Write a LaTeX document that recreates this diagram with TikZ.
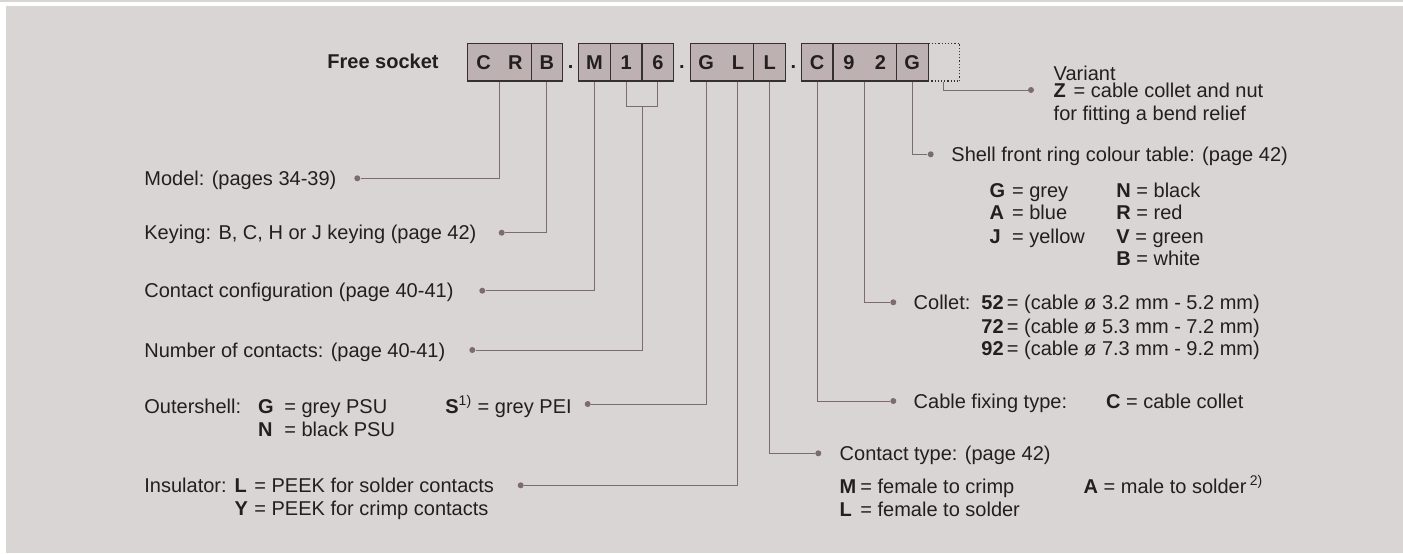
\documentclass[tikz,border=0pt]{standalone}
\usepackage{fontspec}
\setmainfont{Liberation Sans}
\definecolor{panel}{RGB}{217,213,212}
\definecolor{cellfill}{RGB}{189,178,177}
\definecolor{cellline}{RGB}{55,48,48}
\definecolor{leadline}{RGB}{124,108,109}
\definecolor{ink}{RGB}{35,31,32}
\newcommand{\cellw}{15.85pt}
\newcommand{\colbox}[2]{\makebox[#1][l]{#2}}
\newcommand{\cellpair}[2]{\makebox[\cellw]{#1}\makebox[\cellw]{#2}}

\begin{document}
\begin{tikzpicture}
        [x=0.5pt, y=-0.5pt,
        cell/.style={draw=cellline, fill=cellfill, line width=0.6pt, minimum width=\cellw, minimum height=18.85pt, inner sep=0pt, font=\bfseries, text=ink},
        wide/.style={cell, minimum width=31.7pt},
        spare/.style={draw=cellline, densely dotted, line width=0.6pt, minimum width=\cellw, minimum height=18.85pt, inner sep=0pt},
        sep/.style={anchor=base, inner sep=0pt, font=\bfseries, text=ink},
        txt/.style={anchor=base west, inner sep=0pt, text=ink},
        dot/.style={circle, fill=leadline, inner sep=0pt, minimum size=3pt},
        lead/.style={draw=leadline, line width=0.5pt}]
        \fill[white] (0,0) rectangle (1403,553);
        \fill[panel] (0,0) rectangle (1403,2);
        \fill[panel] (6,6) rectangle (1403,553);
        \useasboundingbox (0,0) rectangle (1403,553);

        % ordering code
        \node[txt, anchor=base east, font=\bfseries] (title) at (439,68.5) {Free socket};
        \node[wide] (CR) at (499.4,62.15) {\cellpair{C}{R}};
        \node[cell] (B) at (546.95,62.15) {B};
        \node[sep] (s1) at (570.7,68.5) {.};
        \node[cell] (M) at (594.45,62.15) {M};
        \node[cell] (n1) at (626.15,62.15) {1};
        \node[cell] (n6) at (657.85,62.15) {6};
        \node[sep] (s2) at (682,68.5) {.};
        \node[wide] (GL) at (722.1,62.15) {\cellpair{G}{L}};
        \node[cell] (L) at (769.65,62.15) {L};
        \node[sep] (s3) at (793.4,68.5) {.};
        \node[cell] (C) at (817.15,62.15) {C};
        \node[wide] (n92) at (864.7,62.15) {\cellpair{9}{2}};
        \node[cell] (G) at (912.25,62.15) {G};
        \node[spare] (Z) at (943.95,62.15) {};

        % dots at the label ends
        \node[dot] (dModel) at (357.3,178.3) {};
        \node[dot] (dKey) at (501.7,232.7) {};
        \node[dot] (dConf) at (482.3,290.7) {};
        \node[dot] (dNum) at (472.3,350) {};
        \node[dot] (dOuter) at (587.7,404) {};
        \node[dot] (dIns) at (520.7,485.3) {};
        \node[dot] (dCtype) at (818.3,453.3) {};
        \node[dot] (dCable) at (893.3,401) {};
        \node[dot] (dCollet) at (893.3,302.3) {};
        \node[dot] (dShell) at (930.7,154.3) {};
        \node[dot] (dVar) at (1031,90) {};
        \coordinate (brk) at (642,106.7);

        \draw[lead] (CR.south) |- (dModel);
        \draw[lead] (B.south) |- (dKey);
        \draw[lead] (M.south) |- (dConf);
        \draw[lead] (n1.south) |- (brk) -| (n6.south);
        \draw[lead] (brk) |- (dNum);
        \draw[lead] ([xshift=-7.925pt]GL.south) |- (dOuter);
        \draw[lead] ([xshift=7.925pt]GL.south) |- (dIns);
        \draw[lead] (L.south) |- (dCtype);
        \draw[lead] (C.south) |- (dCable);
        \draw[lead] (n92.south) |- (dCollet);
        \draw[lead] (G.south) |- (dShell);
        \draw[lead] (Z.south) |- (dVar);

        % left labels
        \node[txt] (tModel) at (144,185.3) {Model: (pages 34-39)};
        \node[txt] (tKey) at (144,239.7) {Keying: B, C, H or J keying (page 42)};
        \node[txt] (tConf) at (144,297.7) {Contact configuration (page 40-41)};
        \node[txt] (tNum) at (144,357) {Number of contacts: (page 40-41)};
        \node[txt] (tOuterA) at (144,413) {\colbox{56.85pt}{Outershell:}\colbox{13.15pt}{\textbf{G}}\colbox{80.5pt}{= grey PSU}\textbf{S}\textsuperscript{1)} = grey PEI};
        \node[txt] (tOuterB) at (257.7,436) {\colbox{13.15pt}{\textbf{N}}= black PSU};
        \node[txt] (tInsA) at (144,492) {\colbox{45.15pt}{Insulator:}\colbox{9.85pt}{\textbf{L}}= PEEK for solder contacts};
        \node[txt] (tInsB) at (234.3,515.7) {\colbox{9.85pt}{\textbf{Y}}= PEEK for crimp contacts};

        % right labels
        \node[txt] (tVarA) at (1053.3,80.3) {Variant};
        \node[txt] (tVarB) at (1053.3,97.7) {\colbox{10pt}{\textbf{Z}}= cable collet and nut};
        \node[txt] (tVarC) at (1053.3,120.3) {for fitting a bend relief};
        \node[txt] (tShell) at (951,161.3) {Shell front ring colour table: (page 42)};
        \node[txt] (tColA) at (989.3,197) {\colbox{11.2pt}{\textbf{G}}\colbox{52.15pt}{= grey}\textbf{N} = black};
        \node[txt] (tColB) at (989.3,219.7) {\colbox{11.2pt}{\textbf{A}}\colbox{52.15pt}{= blue}\textbf{R} = red};
        \node[txt] (tColC) at (989.3,243) {\colbox{11.2pt}{\textbf{J}}\colbox{52.15pt}{= yellow}\textbf{V} = green};
        \node[txt] (tColD) at (1116,265) {\textbf{B} = white};
        \node[txt] (tColletA) at (913.3,309.3) {\colbox{33.85pt}{Collet:}\textbf{52}\,= (cable ø 3.2 mm - 5.2 mm)};
        \node[txt] (tColletB) at (981,333) {\textbf{72}\,= (cable ø 5.3 mm - 7.2 mm)};
        \node[txt] (tColletC) at (981,355.3) {\textbf{92}\,= (cable ø 7.3 mm - 9.2 mm)};
        \node[txt] (tCable) at (913.3,408) {\colbox{96.2pt}{Cable fixing type:}\textbf{C} = cable collet};
        \node[txt] (tCtype) at (839.3,460.3) {Contact type: (page 42)};
        \node[txt] (tCtypeA) at (839.3,493) {\colbox{10.35pt}{\textbf{M}}\colbox{111.65pt}{= female to crimp}\textbf{A} = male to solder\,\textsuperscript{2)}};
        \node[txt] (tCtypeB) at (839.3,516.3) {\colbox{10.35pt}{\textbf{L}}= female to solder};
    \end{tikzpicture}
\end{document}
